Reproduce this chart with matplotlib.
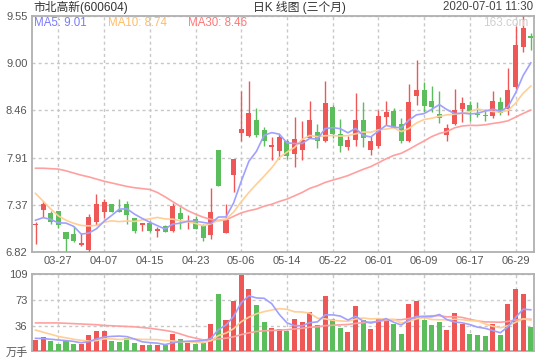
import matplotlib
matplotlib.use('Agg')
import matplotlib.pyplot as plt
import numpy as np

# ---------------- data ----------------
dates = ['03-24', '03-25', '03-26', '03-27', '03-30', '03-31', '04-01', '04-02', '04-03', '04-07',
         '04-08', '04-09', '04-10', '04-13', '04-14', '04-15', '04-16', '04-17', '04-20', '04-21',
         '04-22', '04-23', '04-24', '04-27', '04-28', '04-29', '04-30', '05-06', '05-07', '05-08',
         '05-11', '05-12', '05-13', '05-14', '05-15', '05-18', '05-19', '05-20', '05-21', '05-22',
         '05-25', '05-26', '05-27', '05-28', '05-29', '06-01', '06-02', '06-03', '06-04', '06-05',
         '06-08', '06-09', '06-10', '06-11', '06-12', '06-15', '06-16', '06-17', '06-18', '06-19',
         '06-22', '06-23', '06-24', '06-29', '06-30', '07-01']

opens = [7.135, 7.31, 7.27, 7.30, 7.05, 7.03, 6.905, 6.85, 7.17, 7.29,
         7.38, 7.31, 7.38, 7.22, 7.13, 7.16, 7.07, 7.12, 7.07, 7.27,
         7.165, 7.21, 7.12, 7.02, 8.00, 7.04, 7.71, 8.20, 8.16, 8.35,
         8.23, 8.04, 7.99, 8.10, 7.96, 8.00, 8.14, 8.21, 8.10, 8.50,
         8.185, 8.04, 8.115, 8.35, 8.00, 8.05, 8.38, 8.45, 8.30, 8.10,
         8.62, 8.69, 8.565, 8.42, 8.17, 8.30, 8.475, 8.52, 8.415, 8.40,
         8.39, 8.555, 8.475, 8.73, 9.19, 9.32]
closes = [7.135, 7.38, 7.17, 7.13, 6.97, 6.95, 6.93, 7.23, 7.38, 7.40,
          7.29, 7.29, 7.25, 7.07, 7.155, 7.07, 7.09, 7.06, 7.35, 7.21,
          7.185, 7.09, 6.99, 7.28, 7.59, 7.19, 7.90, 8.24, 8.43, 8.17,
          8.11, 8.055, 8.15, 7.93, 8.13, 8.115, 8.35, 8.10, 8.54, 8.19,
          8.05, 8.115, 8.35, 8.14, 8.10, 8.39, 8.44, 8.25, 8.10, 8.55,
          8.69, 8.51, 8.50, 8.37, 8.26, 8.46, 8.54, 8.455, 8.40, 8.395,
          8.565, 8.43, 8.69, 9.21, 9.41, 9.29]
highs = [7.17, 7.41, 7.30, 7.30, 7.05, 7.12, 7.04, 7.26, 7.49, 7.43,
         7.38, 7.44, 7.41, 7.22, 7.16, 7.18, 7.115, 7.14, 7.39, 7.34,
         7.25, 7.24, 7.15, 7.56, 8.00, 7.38, 7.90, 8.68, 8.80, 8.48,
         8.27, 8.15, 8.19, 8.13, 8.38, 8.33, 8.565, 8.30, 8.80, 8.52,
         8.36, 8.165, 8.66, 8.55, 8.16, 8.46, 8.57, 8.49, 8.365, 8.76,
         9.04, 8.78, 8.74, 8.68, 8.30, 8.70, 8.615, 8.56, 8.55, 8.47,
         8.68, 8.615, 8.95, 9.43, 9.55, 9.35]
lows = [6.92, 7.23, 7.15, 7.10, 6.83, 6.94, 6.895, 6.82, 7.13, 7.22,
        7.28, 7.285, 7.15, 7.04, 7.07, 7.05, 7.00, 7.06, 7.06, 7.09,
        7.09, 7.09, 6.95, 6.97, 7.58, 7.04, 7.52, 8.11, 8.155, 8.15,
        8.05, 7.89, 7.90, 7.90, 7.81, 7.88, 8.14, 8.02, 8.09, 8.14,
        7.98, 8.00, 8.05, 8.04, 7.94, 8.02, 8.29, 8.25, 8.08, 8.09,
        8.52, 8.44, 8.44, 8.31, 8.10, 8.29, 8.32, 8.335, 8.38, 8.335,
        8.37, 8.40, 8.40, 8.70, 9.13, 9.15]

# volume in 万手
volumes = [15.9, 20.2, 14.5, 10.3, 14.5, 10.3, 10.3, 23.0, 28.6, 28.6,
           14.5, 12.7, 19.0, 11.7, 8.9, 8.9, 8.9, 8.9, 24.4, 17.3,
           11.7, 10.3, 11.7, 38.5, 80.8, 44.0, 71.4, 107.6, 87.8, 65.3,
           41.7, 33.3, 31.4, 28.8, 45.5, 41.0, 55.2, 37.0, 78.0, 45.5,
           32.8, 27.0, 63.9, 44.1, 31.4, 45.5, 45.5, 38.5, 24.4, 66.7,
           71.0, 44.1, 37.0, 41.0, 30.0, 54.3, 38.8, 24.4, 23.0, 21.6,
           38.8, 23.0, 66.7, 87.8, 80.8, 34.5]

# moving-average values at the start of the window (need earlier history)
ma5_head = [7.19, 7.22, 7.20, 7.16]
ma10_head = [7.50, 7.41, 7.32, 7.24, 7.19, 7.155, 7.13, 7.125, 7.13]
ma30_head = [7.79, 7.79, 7.785, 7.78, 7.76, 7.735, 7.71, 7.69, 7.665, 7.64,
             7.62, 7.60, 7.58, 7.565, 7.555, 7.545, 7.51, 7.46, 7.405, 7.35,
             7.30, 7.26, 7.225, 7.20, 7.185, 7.195, 7.235, 7.275, 7.30]
vma5_head = [18.3, 18.0, 17.0, 16.0]
vma10_head = [30.0, 27.0, 24.0, 21.0, 19.0, 17.0, 15.5, 14.5, 15.0]
vma30_head = [40.0, 40.0, 40.0, 40.0, 39.5, 39.0, 38.5, 38.0, 37.5, 36.5,
              36.0, 35.5, 35.0, 34.5, 33.5, 32.5, 31.0, 29.5, 27.5, 24.5,
              21.0, 18.5, 16.0, 15.2, 17.5, 18.5, 20.5, 23.5, 26.0]

price_ticks = [6.82, 7.366, 7.912, 8.458, 9.004, 9.55]
price_tick_labels = ['6.82', '7.37', '7.91', '8.46', '9.00', '9.55']
vol_ticks = [0, 36.33, 72.67, 109]
vol_tick_labels = ['万手', '36', '73', '109']
date_tick_labels = ['03-27', '04-07', '04-15', '04-23', '05-06', '05-14',
                    '05-22', '06-01', '06-09', '06-17', '06-29']

title_left = '市北高新(600604)'
title_mid = '日K 线图 (三个月)'
title_right = '2020-07-01 11:30'


def moving_average(vals, n, head):
    out = list(head)
    for i in range(len(head), len(vals)):
        out.append(float(np.mean(vals[i - n + 1:i + 1])))
    return out


ma5 = moving_average(closes, 5, ma5_head)
ma10 = moving_average(closes, 10, ma10_head)
ma30 = moving_average(closes, 30, ma30_head)
vma5 = moving_average(volumes, 5, vma5_head)
vma10 = moving_average(volumes, 10, vma10_head)
vma30 = moving_average(volumes, 30, vma30_head)

# ---------------- style ----------------
plt.rcParams['font.family'] = ['Liberation Sans', 'Noto Sans CJK SC', 'DejaVu Sans']
RED = '#ef5757'
GREEN = '#5cbd5c'
C_MA5 = '#a0a0ff'
C_MA10 = '#ffcf96'
C_MA30 = '#ffa0a0'
GRID = '#c8c8c8'
SPINE = '#b0b0b0'
TXT = '#555555'

W, H = 540, 360
fig = plt.figure(figsize=(5.4, 3.6), dpi=100)
fig.patch.set_facecolor('white')


def fx(px):
    return px / W


def fy(py):
    return 1 - py / H


ax = fig.add_axes([fx(31.7), fy(252.3), fx(534 - 31.7), (252.3 - 15.7) / H])
axv = fig.add_axes([fx(31.7), fy(351.3), fx(534 - 31.7), (351.3 - 274) / H])

x = np.arange(len(dates))
colors = [RED if c >= o else GREEN for o, c in zip(opens, closes)]

# candles
body_bottom = [min(o, c) for o, c in zip(opens, closes)]
body_height = [max(abs(c - o), 0.012) for o, c in zip(opens, closes)]
ax.vlines(x, lows, highs, colors=colors, linewidth=1.0, zorder=3)
ax.bar(x, body_height, bottom=body_bottom, width=0.66, color=colors, linewidth=0, zorder=4)

ax.plot(x, ma30, color=C_MA30, lw=1.2, zorder=5)
ax.plot(x, ma10, color=C_MA10, lw=1.2, zorder=5)
ax.plot(x, ma5, color=C_MA5, lw=1.2, zorder=5)

# volume
axv.bar(x, volumes, width=0.66, color=colors, linewidth=0, zorder=3)
axv.plot(x, vma30, color=C_MA30, lw=1.2, zorder=5)
axv.plot(x, vma10, color=C_MA10, lw=1.2, zorder=5)
axv.plot(x, vma5, color=C_MA5, lw=1.2, zorder=5)

tick_idx = [dates.index(d) for d in date_tick_labels]

for a in (ax, axv):
    a.set_xlim(-0.5, 65.42)
    a.set_xticks(tick_idx)
    a.grid(True, color=GRID, linestyle=(0, (2.2, 2.2)), linewidth=1.0, zorder=0)
    a.set_axisbelow(True)
    for s in a.spines.values():
        s.set_color(SPINE)
        s.set_linewidth(1.3)
    a.tick_params(length=0, labelsize=8, labelcolor=TXT, pad=3)

ax.set_ylim(6.82, 9.55)
ax.set_yticks(price_ticks)
ax.set_yticklabels(price_tick_labels)
ax.set_xticklabels(date_tick_labels)

axv.set_ylim(0, 109)
axv.set_yticks(vol_ticks)
axv.set_yticklabels(vol_tick_labels)
axv.set_xticklabels([])

# titles
fig.text(fx(33), fy(7.5), title_left, fontsize=8.5, color='#333333', va='center', ha='left')
fig.text(fx(299), fy(7.5), title_mid, fontsize=8.5, color='#333333', va='center', ha='center')
fig.text(fx(533), fy(7.5), title_right, fontsize=8.3, color='#444444', va='center', ha='right')

# MA legend
fig.text(fx(33.5), fy(23), 'MA5: %.2f' % ma5[-1], fontsize=8.3, color='#7a7aff', va='center', ha='left')
fig.text(fx(107.5), fy(23), 'MA10: %.2f' % ma10[-1], fontsize=8.3, color='#ffbb66', va='center', ha='left')
fig.text(fx(188), fy(23), 'MA30: %.2f' % ma30[-1], fontsize=8.3, color='#ff7777', va='center', ha='left')

# watermark
fig.text(fx(528), fy(23), '163.com', fontsize=8.5, color='#cfcfcf', va='center', ha='right')

fig.savefig('out.png', dpi=100, facecolor='white')
